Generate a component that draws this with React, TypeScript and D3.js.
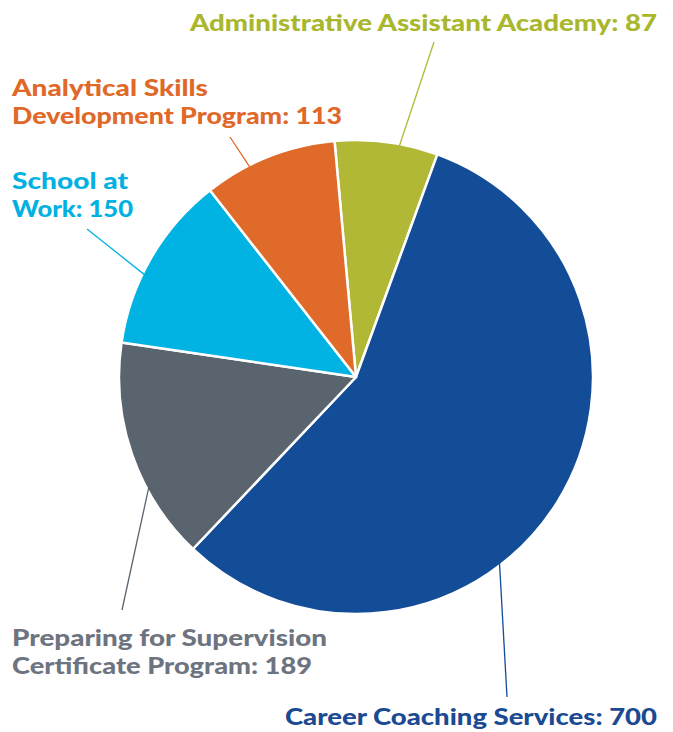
import React from "react";
import * as d3 from "d3";

const categories = [
  "Administrative Assistant Academy",
  "Career Coaching Services",
  "Preparing for Supervision Certificate Program",
  "School at Work",
  "Analytical Skills Development Program",
];
const values = [87, 700, 189, 150, 113];
const colors = ["#b1b836", "#134c97", "#5a646e", "#00b3e3", "#e06a29"];
const textColors = ["#a9b72f", "#1b4a93", "#6d7480", "#00b1e1", "#e0692a"];
const labelLines = [
  ["Administrative Assistant Academy: 87"],
  ["Career Coaching Services: 700"],
  ["Preparing for Supervision", "Certificate Program: 189"],
  ["School at", "Work: 150"],
  ["Analytical Skills", "Development Program: 113"],
];

// layout for labels: x, first baseline y, widths per line
const labelLayout = [
  { x: 190, y: 31, widths: [467] },
  { x: 285, y: 725, widths: [372] },
  { x: 12, y: 646, widths: [315, 300] },
  { x: 12, y: 189, widths: [116, 121] },
  { x: 12, y: 96, widths: [196, 330] },
];
// leader lines: angle on pie (deg, clockwise from top), radius fraction, outer end point
const leaders = [
  { angle: 9, r: 0.82, x: 434, y: 42 },
  { angle: 142.3, r: 0.99, x: 507, y: 697 },
  { angle: 242, r: 0.99, x: 122, y: 610 },
  { angle: 295.8, r: 0.99, x: 87, y: 229 },
  { angle: 333.2, r: 0.99, x: 230, y: 137 },
];

const W = 673;
const H = 732;
const cx = 356;
const cy = 377;
const R = 237;
const startDeg = -5.2;

export default function App() {
  const pie = d3
    .pie<number>()
    .sort(null)
    .startAngle((startDeg * Math.PI) / 180)
    .endAngle(((startDeg + 360) * Math.PI) / 180)
    .value((d) => d);
  const arcs = pie(values);
  const arc = d3.arc<d3.PieArcDatum<number>>().innerRadius(0).outerRadius(R);
  const fontFamily = "Lato, 'Open Sans', sans-serif";
  return (
    <svg
      width={W}
      height={H}
      style={{ position: "absolute", left: 0, top: 0, background: "#fff" }}
    >
      <g transform={`translate(${cx},${cy})`}>
        {arcs.map((a, i) => (
          <path
            key={i}
            d={arc(a) || ""}
            fill={colors[i]}
            stroke="#fff"
            strokeWidth={2.5}
            strokeLinejoin="round"
          />
        ))}
      </g>
      {leaders.map((l, i) => {
        const t = (l.angle * Math.PI) / 180;
        const x1 = cx + Math.sin(t) * R * l.r;
        const y1 = cy - Math.cos(t) * R * l.r;
        return (
          <line
            key={i}
            x1={x1}
            y1={y1}
            x2={l.x}
            y2={l.y}
            stroke={colors[i]}
            strokeWidth={1.3}
          />
        );
      })}
      {labelLines.map((lines, i) => (
        <text
          key={i}
          fill={textColors[i]}
          fontFamily={fontFamily}
          fontWeight={900}
          fontSize={22}
        >
          {lines.map((s, j) => (
            <tspan
              key={j}
              x={labelLayout[i].x}
              y={labelLayout[i].y + j * 27.5}
              textLength={labelLayout[i].widths[j]}
              lengthAdjust="spacingAndGlyphs"
            >
              {s}
            </tspan>
          ))}
        </text>
      ))}
    </svg>
  );
}
